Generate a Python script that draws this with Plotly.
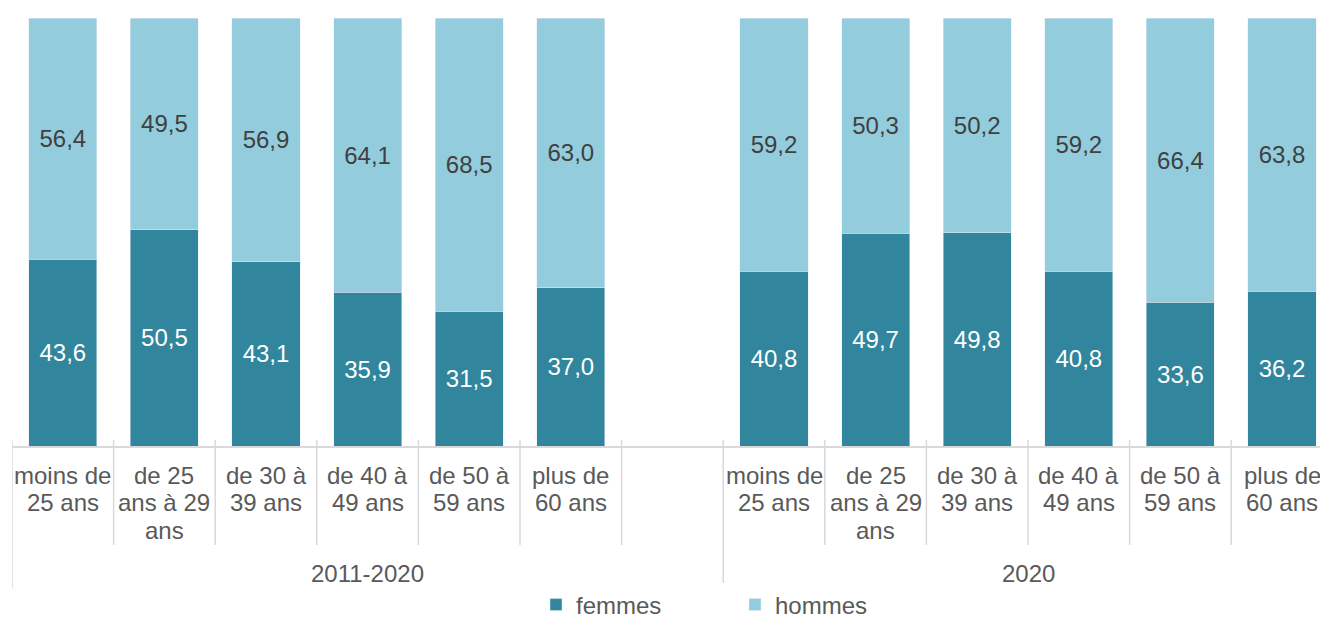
import plotly.graph_objects as go

groups = ["2011-2020", "2020"]
categories = ["moins de<br>25 ans", "de 25<br>ans à 29<br>ans", "de 30 à<br>39 ans",
              "de 40 à<br>49 ans", "de 50 à<br>59 ans", "plus de<br>60 ans"]
femmes_2011_2020 = [43.6, 50.5, 43.1, 35.9, 31.5, 37.0]
hommes_2011_2020 = [56.4, 49.5, 56.9, 64.1, 68.5, 63.0]
femmes_2020 = [40.8, 49.7, 49.8, 40.8, 33.6, 36.2]
hommes_2020 = [59.2, 50.3, 50.2, 59.2, 66.4, 63.8]

C_F = "#31859c"
C_H = "#93cddd"
FONT = "Liberation Sans, Arial, sans-serif"
FS = 24

W, H = 1312, 615
ML, MT = 4, 10
PLOT_H = 428
MB = H - MT - PLOT_H
SLOT = 101.6

# slot positions: group 1 at 0..5, empty slot 6, group 2 at 7..12
xpos = list(range(6)) + list(range(7, 13))
femmes = femmes_2011_2020 + femmes_2020
hommes = hommes_2011_2020 + hommes_2020


def fmt(v):
    return f"{v:.1f}".replace(".", ",")


def py(px_below_axis):
    return -px_below_axis / PLOT_H


fig = go.Figure()
fig.add_trace(go.Bar(x=xpos, y=femmes, name="femmes", marker_color=C_F, width=0.67,
                     text=[fmt(v) for v in femmes], textposition="inside",
                     insidetextanchor="middle",
                     textfont=dict(color="white", size=FS, family=FONT)))
fig.add_trace(go.Bar(x=xpos, y=hommes, name="hommes", marker_color=C_H, width=0.67,
                     text=[fmt(v) for v in hommes], textposition="inside",
                     insidetextanchor="middle",
                     textfont=dict(color="#404040", size=FS, family=FONT)))

shapes = []
for k in range(14):
    xv = k - 0.5
    is_group = k in (0, 7)
    shapes.append(dict(type="line", xref="x", yref="paper", x0=xv, x1=xv,
                       y0=6 / PLOT_H, y1=py(142) if is_group else py(99),
                       line=dict(color="#d9d9d9", width=1.5)))

annotations = []
for i, xv in enumerate(xpos):
    lines = categories[i % 6].split("<br>")
    for j, ln in enumerate(lines):
        annotations.append(dict(x=xv, y=py(29 + 27.6 * j), xref="x", yref="paper",
                                text=ln, showarrow=False,
                                yanchor="middle", xanchor="center",
                                font=dict(size=FS, color="#595959", family=FONT)))
for g, cx in zip(groups, [3, 9.5]):
    annotations.append(dict(x=cx, y=py(127), xref="x", yref="paper", text=g,
                            showarrow=False, yanchor="middle", xanchor="center",
                            font=dict(size=FS, color="#595959", family=FONT)))

plot_w = W - ML
fig.update_layout(
    barmode="stack",
    width=W, height=H,
    margin=dict(l=ML, r=0, t=MT, b=MB),
    plot_bgcolor="white", paper_bgcolor="white",
    showlegend=True,
    legend=dict(orientation="h", xref="container", yref="container",
                x=528 / W, xanchor="left", y=1 - 597 / H, yanchor="middle",
                font=dict(size=FS, color="#595959", family=FONT),
                entrywidth=154, entrywidthmode="pixels", traceorder="normal"),
    xaxis=dict(range=[-0.5, -0.5 + plot_w / SLOT], showticklabels=False, showgrid=False,
               zeroline=False, showline=True, linecolor="#d9d9d9", linewidth=1.5,
               ticks=""),
    yaxis=dict(range=[0, 100], visible=False),
    shapes=shapes, annotations=annotations,
    font=dict(family=FONT),
)
fig.write_html("out.html")
